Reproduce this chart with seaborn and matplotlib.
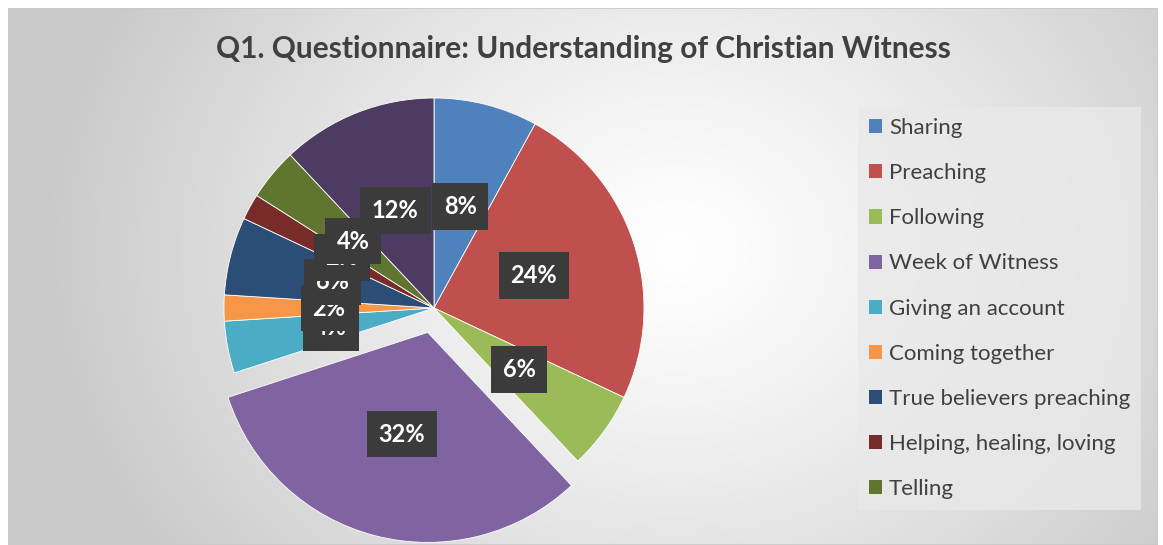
import numpy as np
import matplotlib
matplotlib.use("Agg")
import matplotlib.pyplot as plt
import seaborn as sns
from matplotlib.patches import Patch, Rectangle

sns.set_theme(style="white")
plt.rcParams['font.family'] = ['Lato', 'DejaVu Sans']

title = "Q1. Questionnaire: Understanding of Christian Witness"
categories = ["Sharing", "Preaching", "Following", "Week of Witness",
              "Giving an account", "Coming together", "True believers preaching",
              "Helping, healing, loving", "Telling", "Other"]
values = [8, 24, 6, 32, 4, 2, 6, 2, 4, 12]
colors = ["#4F81BD", "#C0504D", "#9BBB59", "#8064A2", "#4BACC6",
          "#F79646", "#2C4D75", "#772C2A", "#5F7530", "#4D3B62"]
explode = [0, 0, 0, 0.12, 0, 0, 0, 0, 0, 0]
legend_count = 9

W, H = 1163, 545
fig = plt.figure(figsize=(W / 100, H / 100), dpi=100)
fig.patch.set_facecolor("white")

# background radial gradient panel
bg = fig.add_axes([8 / W, 0, (W - 13) / W, (H - 8) / H])
bg.set_axis_off()
yy, xx = np.mgrid[0:300, 0:600]
cx, cy = 0.58 * 600, 0.45 * 300
d = np.sqrt(((xx - cx) / 600) ** 2 + ((yy - cy) / 300 * 0.55) ** 2)
d = np.clip(d / 0.55, 0, 1)
g = 1.0 - 0.21 * d ** 1.2
bg.imshow(np.dstack([g, g, g]), aspect="auto", extent=[0, 1, 0, 1])
bg.add_patch(Rectangle((0, 0), 1, 1, transform=bg.transAxes, fill=False,
                       edgecolor="#c8c8c8", lw=1.2))

# pie axes: centre (434, 308) px from top, radius 210 px
R = 210
half = 260
cxp, cyp = 434, H - 308
ax = fig.add_axes([(cxp - half) / W, (cyp - half) / H, 2 * half / W, 2 * half / H])
ax.set_axis_off()
wedges, _ = ax.pie(values, colors=colors, startangle=90, counterclock=False,
                   explode=explode, radius=1.0,
                   wedgeprops=dict(linewidth=0.6, edgecolor="white"))
lim = half / R
ax.set_xlim(-lim, lim)
ax.set_ylim(-lim, lim)
ax.set_aspect("equal")

# data labels in dark boxes
total = sum(values)
cum = 0
for v, ex in zip(values, explode):
    mid = 90 - (cum + v / 2) / total * 360
    cum += v
    th = np.deg2rad(mid)
    r = 0.5 + ex
    ax.text(r * np.cos(th), r * np.sin(th), f"{v / total * 100:.0f}%",
            ha="center", va="center", color="white", fontsize=17,
            fontweight="bold",
            bbox=dict(boxstyle="square,pad=0.5", facecolor="#3b3b3b",
                      edgecolor="none"))

# title
fig.text(583 / W, 1 - 49 / H, title, ha="center", va="center",
         fontsize=21.5, fontweight="bold", color="#404040")

# legend
handles = [Patch(facecolor=c, edgecolor="none") for c in colors[:legend_count]]
leg = fig.legend(handles, categories[:legend_count], loc="upper left",
                 bbox_to_anchor=(858 / W, 1 - 107 / H), fontsize=16,
                 frameon=True, fancybox=False, labelspacing=1.13,
                 handlelength=0.6, handleheight=0.6, handletextpad=0.3,
                 borderpad=0.5, borderaxespad=0)
leg.get_frame().set_facecolor("#e9e9e9")
leg.get_frame().set_edgecolor("none")
for t in leg.get_texts():
    t.set_color("#404040")

fig.savefig("out.png", dpi=100)
